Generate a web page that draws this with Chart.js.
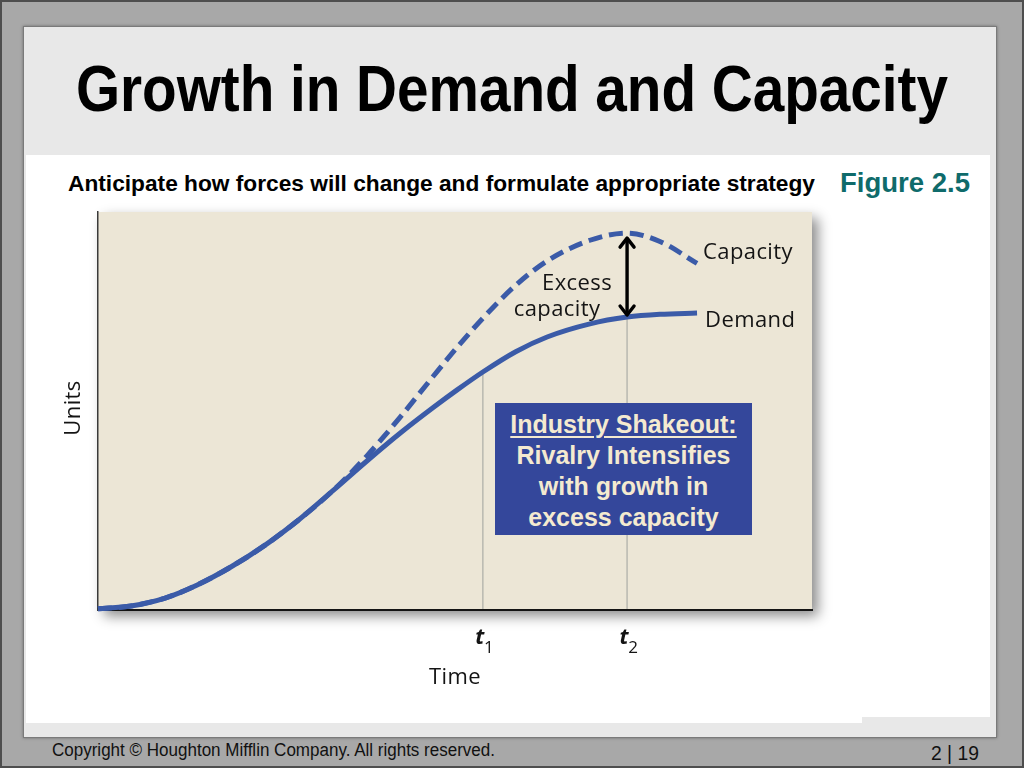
<!DOCTYPE html>
<html>
<head>
<meta charset="utf-8">
<script src="https://cdn.jsdelivr.net/npm/chart.js@4.4.1/dist/chart.umd.min.js"></script>
<style>
html,body{margin:0;padding:0;}
body{width:1024px;height:768px;position:relative;overflow:hidden;background:#a8a8a8;font-family:"Liberation Sans",Arial,sans-serif;}
.frame{position:absolute;left:0;top:0;width:1020px;height:764px;border:2px solid #4e4e4e;}
.panel{position:absolute;left:23px;top:26px;width:972px;height:710px;background:#e8e8e8;border:1px solid #7a7a7a;box-shadow:0 0 3px rgba(0,0,0,.35);}
.white1{position:absolute;left:26px;top:155px;width:836px;height:568px;background:#fff;}
.white2{position:absolute;left:862px;top:155px;width:128px;height:562px;background:#fff;}
.txt{position:absolute;white-space:nowrap;transform-origin:0 0;}
#title{left:76px;top:56px;font-weight:bold;font-size:65px;line-height:65px;color:#000;}
#sub{left:68px;top:173px;font-weight:bold;font-size:22px;line-height:22px;color:#000;}
#fig{left:840px;top:170px;font-weight:bold;font-size:27px;line-height:27px;color:#0f6b6b;}
#copy{left:52px;top:741px;font-size:18px;line-height:18px;color:#111;}
#page{left:931px;top:743px;font-size:20px;line-height:20px;color:#111;}
#chart{position:absolute;left:0;top:0;z-index:2;}
#box{position:absolute;left:495px;top:403px;width:257px;height:132px;background:#34479b;z-index:3;
  color:#f4ead0;font-weight:bold;font-size:25px;line-height:31px;text-align:center;box-sizing:border-box;padding-top:6px;white-space:nowrap;}
#box u{text-decoration-thickness:2px;text-underline-offset:3px;}
</style>
</head>
<body>
<div class="frame"></div>
<div class="panel"></div>
<div class="white1"></div>
<div class="white2"></div>
<div class="txt" id="title" data-w="872">Growth in Demand and Capacity</div>
<div class="txt" id="sub" data-w="747">Anticipate how forces will change and formulate appropriate strategy</div>
<div class="txt" id="fig" data-w="130">Figure 2.5</div>
<div class="txt" id="copy" data-w="443">Copyright © Houghton Mifflin Company. All rights reserved.</div>
<div class="txt" id="page" data-w="48">2 | 19</div>
<canvas id="chart" width="1024" height="768"></canvas>
<div id="box"><u>Industry Shakeout:</u><br>Rivalry Intensifies<br>with growth in<br>excess capacity</div>
<script>
// ---- data ----
const TIME     = [0, 4.6, 9.4, 13.9, 18.6, 23.4, 28.0, 32.9, 37.7, 42.3, 46.9, 50.3, 53.9, 58.5, 62.9, 68.9, 74.1, 78.7, 83.9];
const DEMAND   = [0.3, 1.0, 3.0, 6.3, 10.8, 16.3, 22.5, 30.0, 37.5, 44.4, 50.8, 55.3, 59.8, 64.9, 68.6, 71.9, 73.6, 74.3, 74.6];
const CAPACITY = [0.3, 1.0, 3.0, 6.3, 10.8, 16.3, 22.5, 30.0, 38.8, 48.4, 58.6, 66.0, 73.3, 81.6, 87.7, 92.9, 94.7, 92.6, 87.1];
const T_MARKS  = [53.9, 74.1];
const T_SUBS   = ['1', '2'];
const SERIES_LABELS = ['Demand', 'Capacity'];
const AXIS_LABELS = {x: 'Time', y: 'Units'};
const EXCESS_LABEL = ['Excess', 'capacity'];

// fit condensed text widths
document.querySelectorAll('.txt').forEach(el => {
  const w = el.getBoundingClientRect().width;
  el.style.transform = 'scaleX(' + (parseFloat(el.dataset.w) / w) + ')';
});

const BLUE = '#3b5ba8';
const LABEL_FONT = '22px "Open Sans", "Liberation Sans", sans-serif';

const annot = {
  id: 'annot',
  beforeDraw(chart) {
    const {ctx, chartArea: a, scales: {x, y}} = chart;
    ctx.save();
    ctx.shadowColor = 'rgba(0,0,0,0.45)';
    ctx.shadowBlur = 12; ctx.shadowOffsetX = 6; ctx.shadowOffsetY = 6;
    ctx.fillStyle = '#ece6d6';
    ctx.fillRect(a.left, a.top, a.width, a.height);
    ctx.restore();
    ctx.save();
    ctx.strokeStyle = '#b8b8b0'; ctx.lineWidth = 1.5;
    T_MARKS.forEach(t => {
      const i = TIME.indexOf(t);
      const px = x.getPixelForValue(t), py = y.getPixelForValue(DEMAND[i]);
      ctx.beginPath(); ctx.moveTo(px, py); ctx.lineTo(px, a.bottom); ctx.stroke();
    });
    ctx.restore();
  },
  afterDraw(chart) {
    const {ctx, chartArea: a, scales: {x, y}} = chart;
    const last = TIME.length - 1;
    ctx.save();
    ctx.fillStyle = '#141414';
    ctx.font = LABEL_FONT;
    try { ctx.letterSpacing = '0.4px'; } catch (e) {}
    ctx.textBaseline = 'middle';
    ctx.textAlign = 'left';
    ctx.fillText(SERIES_LABELS[1], x.getPixelForValue(TIME[last]) + 6, y.getPixelForValue(CAPACITY[last]) - 11);
    ctx.fillText(SERIES_LABELS[0], x.getPixelForValue(TIME[last]) + 8, y.getPixelForValue(DEMAND[last]) + 8);
    // excess capacity arrow at t2
    const i2 = TIME.indexOf(T_MARKS[1]);
    const ax = x.getPixelForValue(T_MARKS[1]);
    const yTop = y.getPixelForValue(CAPACITY[i2]) + 5;
    const yBot = y.getPixelForValue(DEMAND[i2]) - 2;
    ctx.textAlign = 'center';
    ctx.fillText(EXCESS_LABEL[0], ax - 50, y.getPixelForValue(DEMAND[i2]) - 33);
    ctx.fillText(EXCESS_LABEL[1], ax - 70, y.getPixelForValue(DEMAND[i2]) - 7);
    ctx.strokeStyle = '#000'; ctx.lineWidth = 3.4; ctx.lineCap = 'round'; ctx.lineJoin = 'round';
    ctx.beginPath(); ctx.moveTo(ax, yTop + 1); ctx.lineTo(ax, yBot - 1); ctx.stroke();
    ctx.beginPath(); ctx.moveTo(ax - 7, yTop + 9); ctx.lineTo(ax, yTop); ctx.lineTo(ax + 7, yTop + 9); ctx.stroke();
    ctx.beginPath(); ctx.moveTo(ax - 7, yBot - 9); ctx.lineTo(ax, yBot); ctx.lineTo(ax + 7, yBot - 9); ctx.stroke();
    // axis labels
    ctx.fillStyle = '#141414';
    ctx.textAlign = 'center';
    ctx.fillText(AXIS_LABELS.x, 455, a.bottom + 68);
    ctx.save();
    ctx.translate(a.left - 24, (a.top + a.bottom) / 2 - 3);
    ctx.rotate(-Math.PI / 2);
    ctx.fillText(AXIS_LABELS.y, 0, 0);
    ctx.restore();
    // t1, t2 tick labels
    try { ctx.letterSpacing = '0px'; } catch (e) {}
    T_MARKS.forEach((t, k) => {
      const px = x.getPixelForValue(t);
      ctx.font = 'italic bold 22px "Open Sans", "Liberation Sans", sans-serif';
      ctx.fillText('t', px - 3, a.bottom + 28);
      ctx.font = '17px "Open Sans", "Liberation Sans", sans-serif';
      ctx.fillText(T_SUBS[k], px + 6, a.bottom + 38);
    });
    ctx.restore();
  }
};

new Chart(document.getElementById('chart'), {
  type: 'line',
  data: {
    labels: TIME,
    datasets: [
      {label: SERIES_LABELS[0], data: TIME.map((t, i) => ({x: t, y: DEMAND[i]})),
       borderColor: BLUE, borderWidth: 5, pointRadius: 0, cubicInterpolationMode: 'monotone', clip: 10, fill: false},
      {label: SERIES_LABELS[1], data: TIME.map((t, i) => ({x: t, y: CAPACITY[i]})),
       borderColor: BLUE, borderWidth: 5, borderDash: [14, 7], pointRadius: 0, cubicInterpolationMode: 'monotone', clip: 10, fill: false}
    ]
  },
  options: {
    responsive: false,
    animation: false,
    devicePixelRatio: 1,
    layout: {padding: {left: 98, top: 212, right: 212, bottom: 158}},
    plugins: {legend: {display: false}, tooltip: {enabled: false}},
    scales: {
      x: {type: 'linear', min: 0, max: 100,
          grid: {display: false, drawTicks: false, tickLength: 0},
          ticks: {display: false},
          border: {display: true, color: '#141414', width: 2}},
      y: {type: 'linear', min: 0, max: 100,
          grid: {display: false, drawTicks: false, tickLength: 0},
          ticks: {display: false},
          border: {display: true, color: '#3a3a3a', width: 1.5}}
    }
  },
  plugins: [annot]
});
</script>
</body>
</html>
